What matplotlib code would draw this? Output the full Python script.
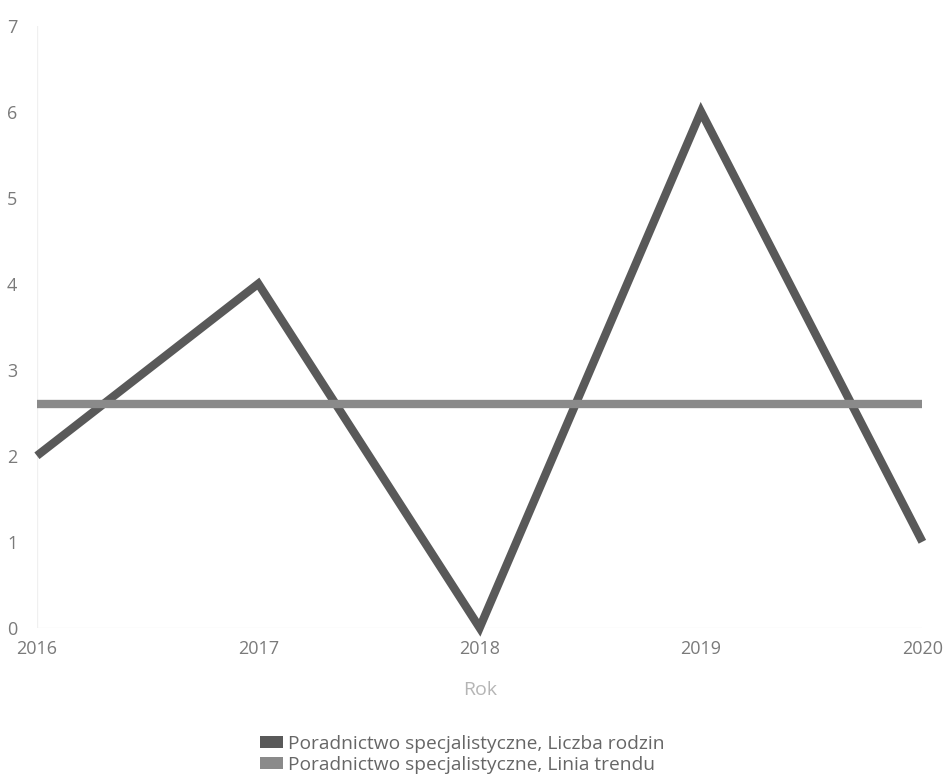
import matplotlib
matplotlib.use("Agg")
import matplotlib.pyplot as plt
from matplotlib.patches import Patch

plt.rcParams['font.family'] = ['Open Sans', 'DejaVu Sans']

years = [2016, 2017, 2018, 2019, 2020]
liczba_rodzin = [2, 4, 0, 6, 1]
linia_trendu = [2.6, 2.6, 2.6, 2.6, 2.6]
y_ticks = [0, 1, 2, 3, 4, 5, 6, 7]
series_names = ["Poradnictwo specjalistyczne, Liczba rodzin",
                "Poradnictwo specjalistyczne, Linia trendu"]
colors = ["#595959", "#8a8a8a"]

fig = plt.figure(figsize=(9.47, 7.77), dpi=100)
ax = fig.add_axes([0.039, 0.192, 0.935, 0.775])

ax.plot(years, liczba_rodzin, color=colors[0], lw=6, solid_capstyle='butt',
        solid_joinstyle='miter', clip_on=False, zorder=3)
ax.plot(years, linia_trendu, color=colors[1], lw=6, solid_capstyle='butt',
        clip_on=False, zorder=4)

ax.set_xlim(2016, 2020)
ax.set_ylim(0, 7)
ax.set_yticks(y_ticks)
ax.set_xticks(years)
ax.set_xticklabels([str(y) for y in years])
for s in ax.spines.values():
    s.set_visible(False)
ax.axvline(2016, color="#f0f0f0", lw=1, zorder=1)
ax.axhline(0, color="#f0f0f0", lw=1, zorder=1)
ax.tick_params(axis='both', length=0, labelsize=13, colors="#7a7a7a")
ax.tick_params(axis='y', pad=14)
ax.tick_params(axis='x', pad=9)

ax.set_xlabel("Rok", color="#b5b5b5", fontsize=14, labelpad=16)

handles = [Patch(facecolor=colors[0]), Patch(facecolor=colors[1])]
fig.legend(handles, series_names, loc='center', bbox_to_anchor=(0.488, 0.029),
           ncol=1, frameon=False, fontsize=13.8, handlelength=1.2, handleheight=0.6,
           handletextpad=0.3, labelspacing=0.15, labelcolor="#666666",
           borderpad=0)

fig.savefig("out.png", dpi=100, facecolor="white")
